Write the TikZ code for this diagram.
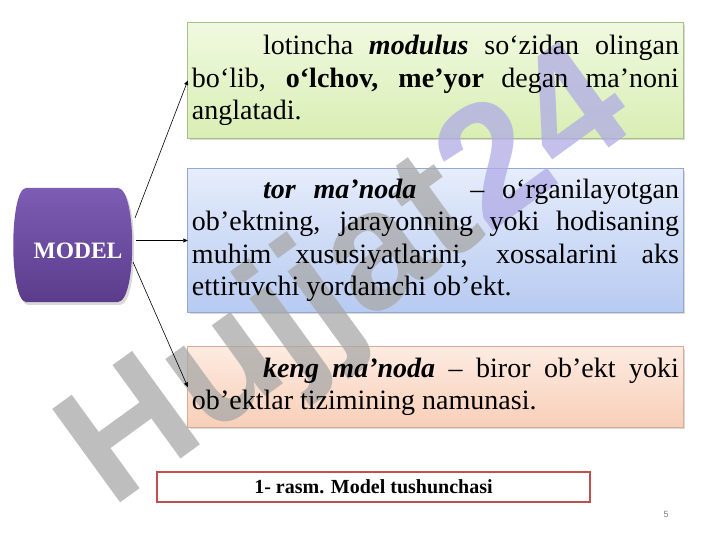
\documentclass[tikz,border=0pt]{standalone}
\usepackage{fontspec}
\setmainfont{Liberation Serif}
\newfontfamily\wmfont{Liberation Sans}
\usetikzlibrary{arrows.meta}
\pgfdeclarelayer{bg}
\pgfdeclarelayer{wm}
\pgfsetlayers{bg,wm,main}
\definecolor{gtop}{HTML}{F0F9E0}
\definecolor{gbot}{HTML}{D9EEB4}
\definecolor{gborder}{HTML}{A9BF8A}
\definecolor{btop}{HTML}{E6EDFB}
\definecolor{bbot}{HTML}{B7CAF1}
\definecolor{bborder}{HTML}{93A9D2}
\definecolor{ptop}{HTML}{FDEBE1}
\definecolor{pbot}{HTML}{F8CFB8}
\definecolor{pborder}{HTML}{D6AE98}
\definecolor{mtop}{HTML}{7D5DB3}
\definecolor{mbot}{HTML}{5B3C8C}
\definecolor{capred}{HTML}{C0504D}
\definecolor{wmgray}{HTML}{A8A8A8}
\definecolor{wmlav}{HTML}{B0ABE6}
\begin{document}
\begin{tikzpicture}[x=1bp,y=-1bp,
  txtbox/.style={minimum width=495bp, text width=487bp, inner xsep=4bp, inner ysep=0pt,
    align=justify, font=\fontsize{28bp}{32.5bp}\selectfont, anchor=center},
  conn/.style={line width=0.6bp, -{Triangle[length=4.5bp,width=4bp]}},
  boxshadow/.style={fill=black, opacity=0.15},
]
\useasboundingbox (0,0) rectangle (720,540);

% text boxes
\node[txtbox, minimum height=115bp] (green) at (435.5,80.5)
  {\noindent\hspace*{71bp}lotincha \textbf{\textit{modulus}} so‘zidan olingan\linebreak
   bo‘lib, \textbf{o‘lchov, me’yor} degan ma’noni\linebreak anglatadi.};
\node[txtbox, minimum height=143bp] (blue) at (435.5,240.5)
  {\noindent\hspace*{71bp}\textbf{\textit{tor ma’noda}}\ \ \ – o‘rganilayotgan\linebreak
   ob’ektning, jarayonning yoki hodisaning\linebreak
   muhim xususiyatlarini, xossalarini aks\linebreak
   ettiruvchi yordamchi ob’ekt.};
\node[txtbox, minimum height=80bp] (peach) at (435.5,387)
  {\noindent\hspace*{71bp}\textbf{\textit{keng ma’noda}} – biror ob’ekt yoki\linebreak
   ob’ektlar tizimining namunasi.};

% MODEL
\node[font=\fontsize{23.5bp}{23.5bp}\selectfont\bfseries, text=white] (model) at (78,251) {MODEL};
\coordinate (m1) at (135,218);
\coordinate (m2) at (136,240.5);
\coordinate (m3) at (133,262);

\begin{pgfonlayer}{bg}
  \foreach \b/\t/\u/\c in {green/gtop/gbot/gborder, blue/btop/bbot/bborder, peach/ptop/pbot/pborder}{
    \fill[boxshadow] ([xshift=2bp,yshift=-2bp]\b.north west) rectangle ([xshift=2bp,yshift=-2bp]\b.south east);
    \shadedraw[top color=\t, bottom color=\u, draw=\c, line width=0.7bp] (\b.north west) rectangle (\b.south east);
  }
  \fill[boxshadow] (28,191) -- (120,191) .. controls (139,192) and (139,304) .. (120,305) -- (28,305) .. controls (11,304) and (11,192) .. (28,191) -- cycle;
  \shade[top color=mtop, bottom color=mbot] (26,188) -- (118,188) .. controls (137,189) and (137,301) .. (118,302)
     -- (26,302) .. controls (9,301) and (9,189) .. (26,188) -- cycle;
\end{pgfonlayer}

% watermark
\begin{pgfonlayer}{wm}
  \node[rotate=36, font=\wmfont\bfseries\fontsize{168bp}{168bp}\selectfont, opacity=0.75, inner sep=0pt] (wmark) at (350,282)
    {\textcolor{wmgray}{Hujjat}\textcolor{wmlav}{24}};
\end{pgfonlayer}

% connectors
\draw[conn] (m1) -- (green.west);
\draw[conn] (m2) -- (blue.west);
\draw[conn] (m3) -- (peach.west);

% caption
\node[draw=capred, line width=1.1bp, fill=white, minimum width=433bp, minimum height=30bp,
  font=\fontsize{20bp}{20bp}\selectfont\bfseries] (caption) at (373.5,487) {1- rasm. Model tushunchasi};

% page number
\node[text=gray, font=\wmfont\fontsize{9bp}{9bp}\selectfont] (pnum) at (666,514) {5};
\end{tikzpicture}
\end{document}
